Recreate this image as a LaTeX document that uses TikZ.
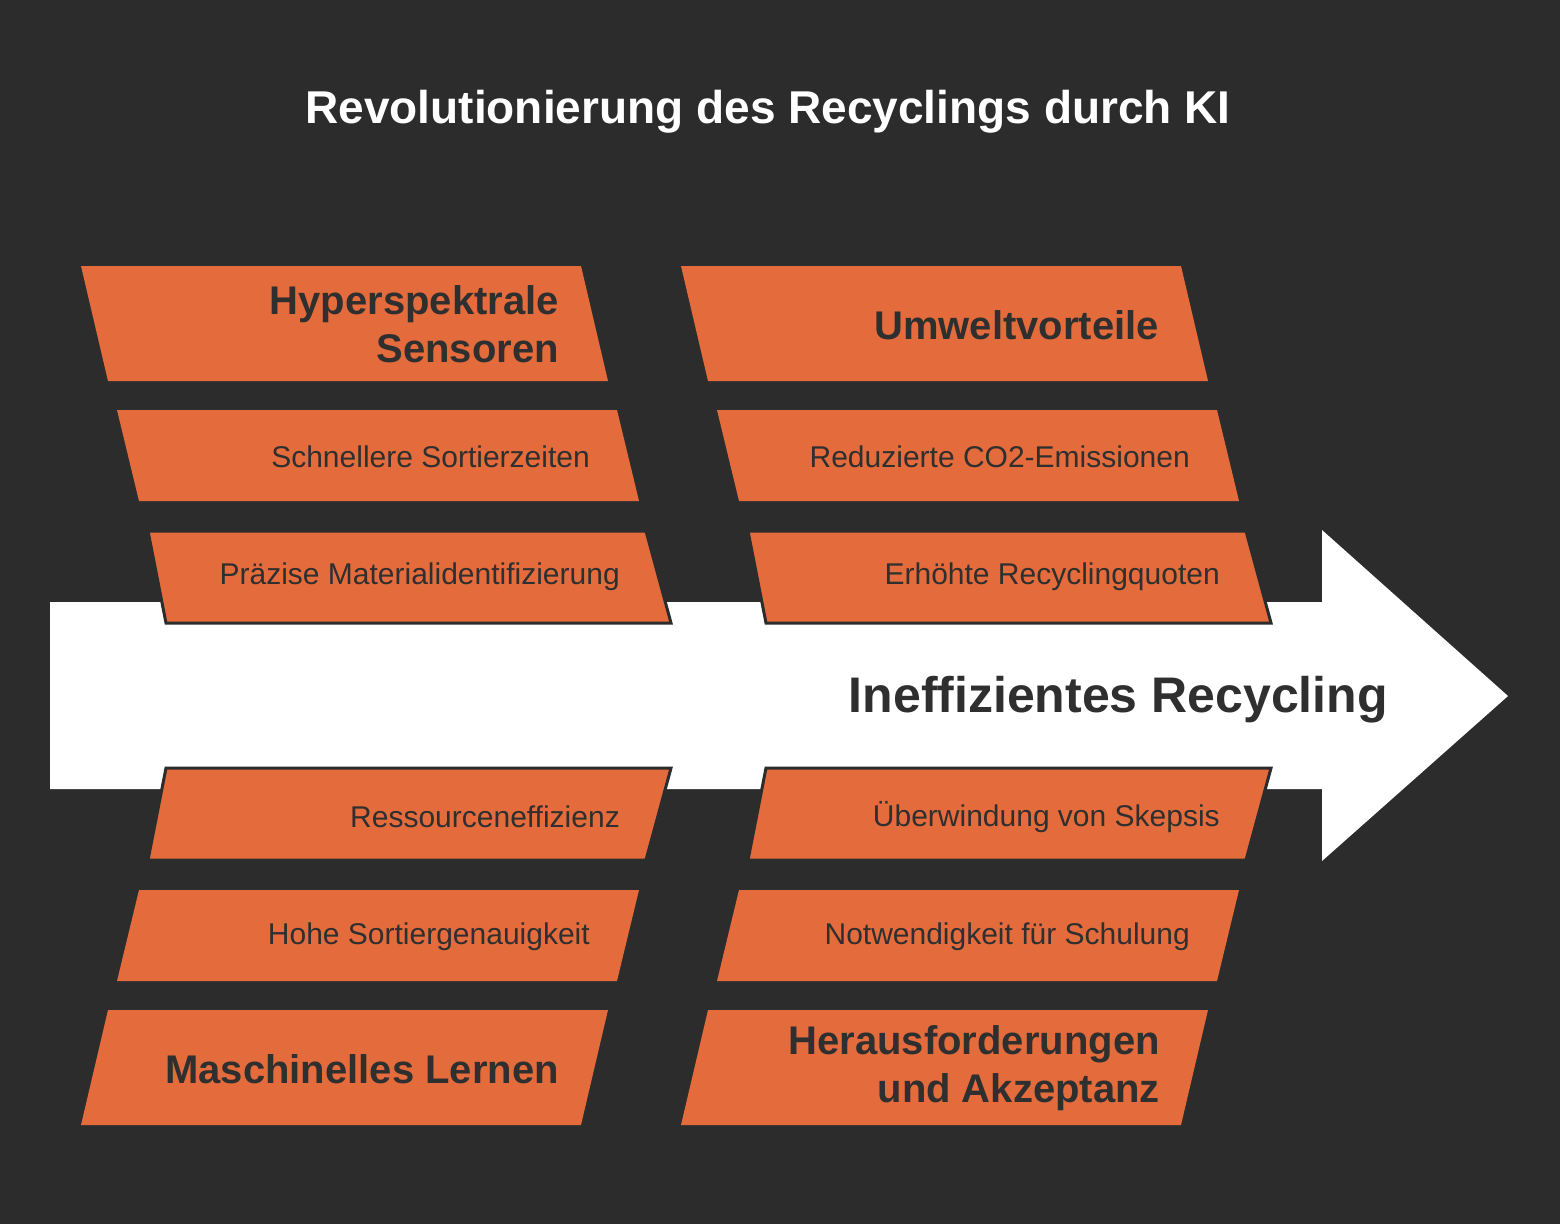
\documentclass[tikz,border=0pt]{standalone}
\usepackage{fontspec}
\setmainfont{Liberation Sans}
\usepackage{tikz}
\definecolor{bg}{HTML}{2C2C2C}
\definecolor{ink}{HTML}{2F2F2F}
\definecolor{orange}{HTML}{E46C3C}
\definecolor{white}{HTML}{FFFFFF}
\tikzset{
  arrowbody/.style={fill=white, draw=none},
  card/.style={fill=orange, draw=none},
  cardrim/.style={card, draw=bg, line width=3pt, line join=miter},
  head/.style={text=ink, font=\fontsize{40}{48}\selectfont\bfseries, align=right, anchor=east, inner sep=0pt},
  item/.style={text=ink, font=\fontsize{30}{35}\selectfont, anchor=east, inner sep=0pt},
  ttl/.style={text=white, font=\fontsize{46}{54}\selectfont\bfseries, inner sep=0pt},
  main/.style={text=ink, font=\fontsize{50}{60}\selectfont\bfseries, anchor=east, inner sep=0pt},
}
\begin{document}
\begin{tikzpicture}[x=1pt, y=-1pt]
  \fill[bg] (0,0) rectangle (1560,1224);
  \useasboundingbox (0,0) rectangle (1560,1224);
  % title
  \node[ttl] (title) at (768,112) {Revolutionierung des Recyclings durch KI};
  % big arrow
  \fill[arrowbody] (50,602) -- (1322,602) -- (1322,530) -- (1508,696)
    -- (1322,861) -- (1322,789) -- (50,789) -- cycle;
  \node[main] (problem) at (1388,700) {Ineffizientes Recycling};
  % upper left column
  \draw[card] (81,266) -- (581,266) -- (608,381) -- (108,381) -- cycle;
  \draw[card] (117,410) -- (617,410) -- (639,501) -- (139,501) -- cycle;
  \draw[cardrim] (148,531) -- (646,531) -- (671,623) -- (166,623) -- cycle;
  \node[head] (sensor) at (559,324) {Hyperspektrale\\Sensoren};
  \node[item] (speed) at (590,457) {Schnellere Sortierzeiten};
  \node[item] (ident) at (620,577) {Präzise Materialidentifizierung};
  % upper right column
  \draw[card] (681,266) -- (1181,266) -- (1208,381) -- (708,381) -- cycle;
  \draw[card] (717,410) -- (1217,410) -- (1239,501) -- (739,501) -- cycle;
  \draw[cardrim] (748,531) -- (1246,531) -- (1271,623) -- (766,623) -- cycle;
  \node[head] (env) at (1159,325) {Umweltvorteile};
  \node[item] (co2) at (1190,457) {Reduzierte CO2-Emissionen};
  \node[item] (quota) at (1220,577) {Erhöhte Recyclingquoten};
  % lower left column
  \draw[cardrim] (166,768) -- (671,768) -- (646,860) -- (148,860) -- cycle;
  \draw[card] (139,890) -- (639,890) -- (617,981) -- (117,981) -- cycle;
  \draw[card] (108,1010) -- (608,1010) -- (581,1125) -- (81,1125) -- cycle;
  \node[item] (res) at (620,817) {Ressourceneffizienz};
  \node[item] (acc) at (590,937) {Hohe Sortiergenauigkeit};
  \node[head] (ml) at (559,1069) {Maschinelles Lernen};
  % lower right column
  \draw[cardrim] (766,768) -- (1271,768) -- (1246,860) -- (748,860) -- cycle;
  \draw[card] (739,890) -- (1239,890) -- (1217,981) -- (717,981) -- cycle;
  \draw[card] (708,1010) -- (1208,1010) -- (1181,1125) -- (681,1125) -- cycle;
  \node[item] (skep) at (1220,817) {Überwindung von Skepsis};
  \node[item] (train) at (1190,937) {Notwendigkeit für Schulung};
  \node[head] (chal) at (1160,1068) {Herausforderungen\\und Akzeptanz};
\end{tikzpicture}
\end{document}
